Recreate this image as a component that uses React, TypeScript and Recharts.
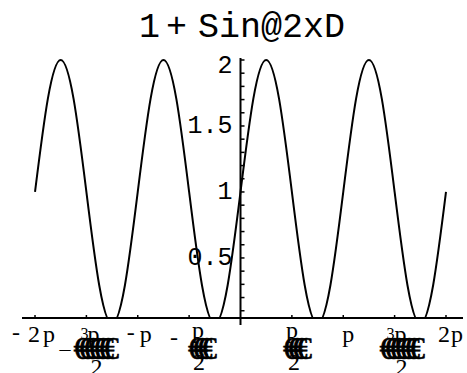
import { LineChart, Line, XAxis, YAxis, ReferenceLine } from "recharts";

// samples of the plotted curve, x in radians (steps of pi/8)
const xValues = [
  -6.283, -5.890, -5.498, -5.105, -4.712, -4.320, -3.927, -3.534, -3.142,
  -2.749, -2.356, -1.963, -1.571, -1.178, -0.785, -0.393, 0, 0.393, 0.785,
  1.178, 1.571, 1.963, 2.356, 2.749, 3.142, 3.534, 3.927, 4.320, 4.712,
  5.105, 5.498, 5.890, 6.283,
];
const yValues = [
  1, 1.707, 2, 1.707, 1, 0.293, 0, 0.293, 1,
  1.707, 2, 1.707, 1, 0.293, 0, 0.293, 1, 1.707, 2,
  1.707, 1, 0.293, 0, 0.293, 1, 1.707, 2, 1.707, 1,
  0.293, 0, 0.293, 1,
];

const xTicks = [-6.283, -4.712, -3.142, -1.571, 1.571, 3.142, 4.712, 6.283];
const yTicks = [
  0.1, 0.2, 0.3, 0.4, 0.5, 0.6, 0.7, 0.8, 0.9, 1, 1.1, 1.2, 1.3, 1.4, 1.5,
  1.6, 1.7, 1.8, 1.9, 2,
];
const yLabels: Record<string, string> = { "0.5": "0.5", "1": "1", "1.5": "1.5", "2": "2" };

const X_MIN = -6.681;
const X_MAX = 6.803;
const Y_MIN = 0.045;
const Y_MAX = 2.053;

const W = 467;
const H = 373;
const PLOT_LEFT = 22;
const PLOT_RIGHT = 4;
const AXIS_X =
  PLOT_LEFT + ((0 - X_MIN) / (X_MAX - X_MIN)) * (W - PLOT_LEFT - PLOT_RIGHT);

const data = xValues.map((x, i) => ({ x, y: yValues[i] }));

const serif = "'Liberation Serif', 'Times New Roman', serif";
const mono = "'Liberation Mono', 'Courier New', monospace";

// Mathematica's broken symbol-font labels, piece by piece
const XTick = (props: any) => {
  const { x, y, index } = props;
  const euro = (n: number, dx: number, sp: number) => (
    <text
      x={x + dx}
      y={y + 41}
      fontFamily={serif}
      fontSize={31}
      stroke="#000"
      strokeWidth={0.6}
      letterSpacing={sp}
      fill="#000"
    >
      {"€".repeat(n)}
    </text>
  );
  let label: any = null;
  switch (index) {
    case 0:
      label = (
        <g>
          <text x={x - 23} y={y + 22} fontFamily={serif} fontSize={24}>-</text>
          <text x={x - 7} y={y + 24} fontFamily={serif} fontSize={24} letterSpacing={3}>2p</text>
        </g>
      );
      break;
    case 1:
      label = (
        <g>
          <text x={x - 27} y={y + 30} fontFamily={serif} fontSize={22}>_</text>
          <text x={x - 6} y={y + 21} fontFamily={serif} fontSize={16}>3</text>
          <text x={x + 1} y={y + 24} fontFamily={serif} fontSize={24}>p</text>
          {euro(7, -13, -10.5)}
          <text x={x + 4} y={y + 57} fontFamily={serif} fontSize={24}>2</text>
        </g>
      );
      break;
    case 2:
      label = (
        <g>
          <text x={x - 11} y={y + 22} fontFamily={serif} fontSize={24}>-</text>
          <text x={x + 2} y={y + 24} fontFamily={serif} fontSize={24}>p</text>
        </g>
      );
      break;
    case 3:
      label = (
        <g>
          <text x={x - 19} y={y + 27} fontFamily={serif} fontSize={24}>-</text>
          <text x={x + 3} y={y + 20} fontFamily={serif} fontSize={24}>p</text>
          {euro(4, -1, -11)}
          <text x={x + 4} y={y + 52} fontFamily={serif} fontSize={24}>2</text>
        </g>
      );
      break;
    case 4:
      label = (
        <g>
          <text x={x - 6} y={y + 20} fontFamily={serif} fontSize={24}>p</text>
          {euro(4, -9, -11)}
          <text x={x - 4} y={y + 52} fontFamily={serif} fontSize={24}>2</text>
        </g>
      );
      break;
    case 5:
      label = (
        <text x={x - 1} y={y + 24} fontFamily={serif} fontSize={24}>p</text>
      );
      break;
    case 6:
      label = (
        <g>
          <text x={x - 8} y={y + 21} fontFamily={serif} fontSize={16}>3</text>
          <text x={x} y={y + 24} fontFamily={serif} fontSize={24}>p</text>
          {euro(7, -15, -10.5)}
          <text x={x + 1} y={y + 57} fontFamily={serif} fontSize={24}>2</text>
        </g>
      );
      break;
    case 7:
      label = (
        <text x={x - 8} y={y + 24} fontFamily={serif} fontSize={24} letterSpacing={1}>2p</text>
      );
      break;
  }
  return (
    <g>
      <line x1={x} y1={y} x2={x} y2={y - 3} stroke="#000" strokeWidth={1.5} />
      {label}
    </g>
  );
};

const YTick = (props: any) => {
  const { y, payload } = props;
  const key = String(payload.value);
  const text = yLabels[key];
  return (
    <g>
      <line x1={AXIS_X} y1={y} x2={AXIS_X + 4} y2={y} stroke="#000" strokeWidth={1.5} />
      {text ? (
        <text
          x={AXIS_X - 8}
          y={y + (key === "2" ? 13 : 7)}
          textAnchor="end"
          fontFamily={mono}
          fontSize={25}
          fill="#000"
        >
          {text}
        </text>
      ) : null}
    </g>
  );
};

export default function App() {
  return (
    <div
      style={{
        position: "absolute",
        left: 0,
        top: 0,
        width: W,
        height: H,
        background: "#fff",
        overflow: "hidden",
      }}
    >
      <svg
        width={W}
        height={60}
        style={{ position: "absolute", left: 0, top: 0 }}
      >
        <text x={139} y={37} fontFamily={mono} fontSize={35} fill="#000">1</text>
        <text x={166} y={37} fontFamily={mono} fontSize={35} fill="#000">+</text>
        <text x={198} y={37} fontFamily={mono} fontSize={35} fill="#000">Sin@2xD</text>
      </svg>
      <LineChart
        width={W}
        height={H}
        data={data}
        margin={{ top: 53, right: PLOT_RIGHT, left: 0, bottom: 0 }}
      >
        <XAxis
          dataKey="x"
          type="number"
          domain={[X_MIN, X_MAX]}
          allowDataOverflow
          ticks={xTicks}
          interval={0}
          height={55}
          tickSize={0}
          tickMargin={0}
          tickLine={false}
          axisLine={{ stroke: "#000", strokeWidth: 2 }}
          tick={<XTick />}
        />
        <YAxis
          type="number"
          domain={[Y_MIN, Y_MAX]}
          allowDataOverflow
          ticks={yTicks}
          interval={0}
          width={PLOT_LEFT}
          tickLine={false}
          axisLine={false}
          tick={<YTick />}
        />
        <ReferenceLine
          segment={[
            { x: 0, y: -0.008 },
            { x: 0, y: 2.015 },
          ]}
          ifOverflow="visible"
          stroke="#000"
          strokeWidth={2}
        />
        <Line
          dataKey="y"
          type="natural"
          stroke="#000"
          strokeWidth={2}
          dot={false}
          isAnimationActive={false}
        />
      </LineChart>
    </div>
  );
}
